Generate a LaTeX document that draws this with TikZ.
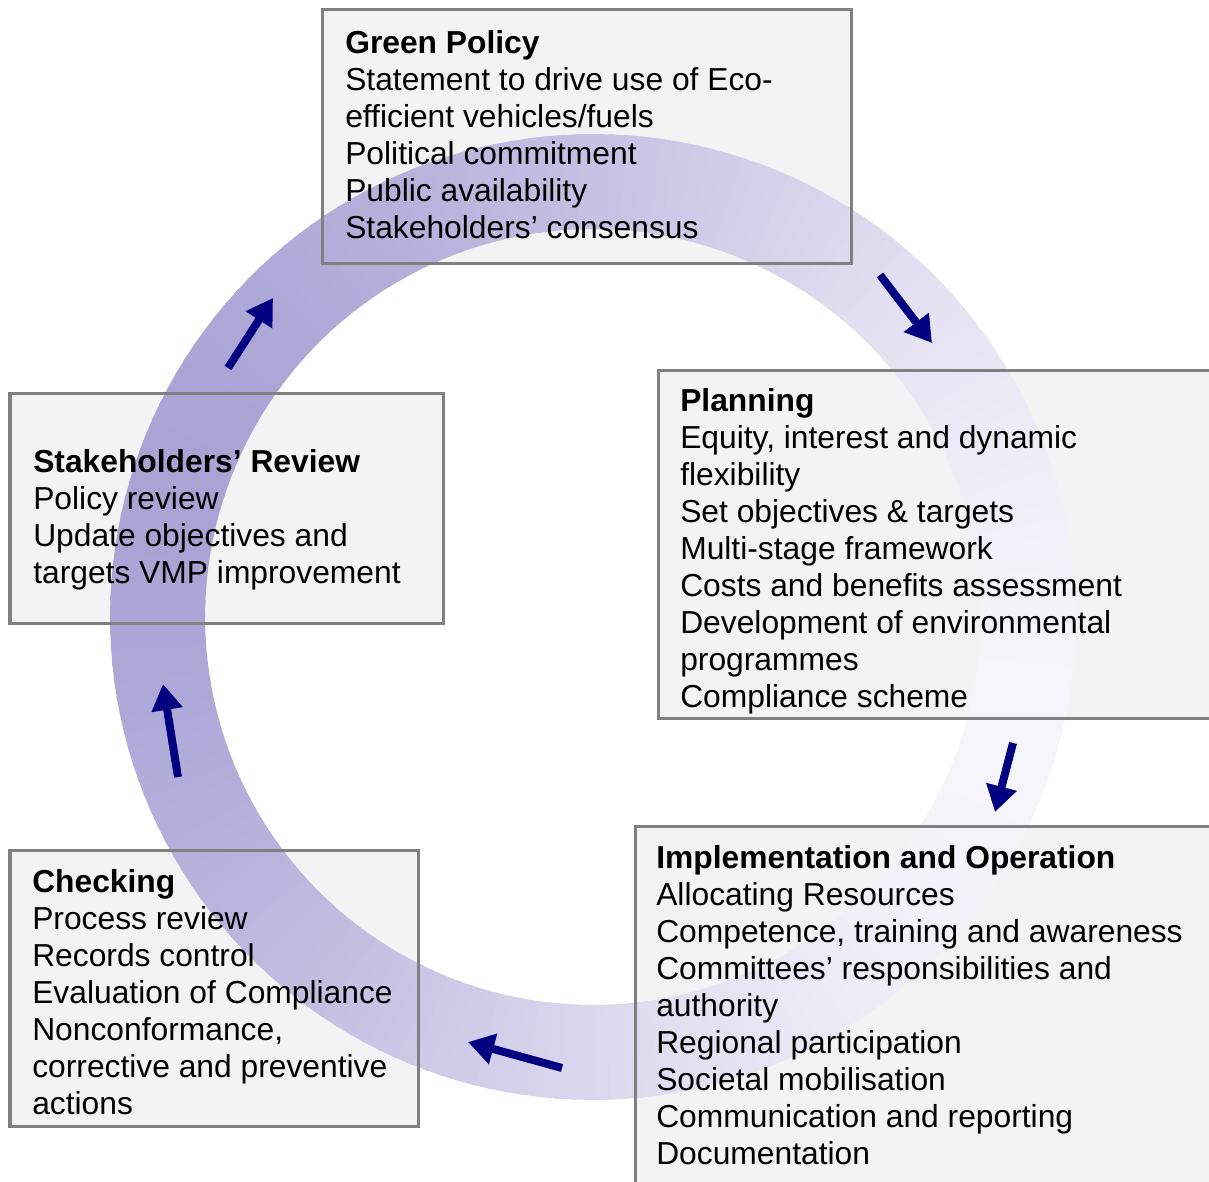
\documentclass[tikz,border=0pt]{standalone}
\usepackage{fontspec}
\setmainfont{Liberation Sans}
\usetikzlibrary{arrows.meta,positioning}
\definecolor{ringdark}{RGB}{170,164,213}
\definecolor{ringlight}{RGB}{246,245,251}
\definecolor{arrownavy}{RGB}{0,0,128}
\definecolor{boxrule}{RGB}{128,128,128}
\definecolor{boxfill}{RGB}{243,243,243}

\begin{document}
\begin{tikzpicture}[x=0.025cm,y=-0.025cm]
\tikzset{
  stagebox/.style={rectangle,fill=boxfill,anchor=north west,inner sep=0pt},
  stagerule/.style={draw=boxrule,line width=0.075cm},
  stagetext/.style={align=left,inner sep=0pt,anchor=north west,font=\fontsize{22.6}{26.3}\selectfont},
  cyclearrow/.style={draw=arrownavy,line width=0.2cm,-{Triangle[length=0.65cm,width=0.75cm]}}
}
\useasboundingbox (0,0) rectangle (1209,1182);
\clip (0,0) rectangle (1209,1182);
% box backgrounds
\node[stagebox,minimum width=13.225cm,minimum height=6.325cm] (n_policy) at (322,10) {};
\node[stagebox,minimum width=14.3cm,minimum height=8.7cm] (n_plan) at (658,370) {};
\node[stagebox,minimum width=15cm,minimum height=9.35cm] (n_impl) at (635,826) {};
\node[stagebox,minimum width=10.2cm,minimum height=6.9cm] (n_check) at (10,850) {};
\node[stagebox,minimum width=10.825cm,minimum height=5.75cm] (n_review) at (10,393) {};
% shaded ring
\coordinate (ring_c) at (593,617);
\begin{scope}[shift={(ring_c)}]
\foreach \a in {0,2,...,358}{
  \pgfmathsetmacro\t{50*(1-cos(\a-15))}
  \fill[ringdark!\t!ringlight] (\a:388) -- (\a:483) -- (\a+2.6:483) -- (\a+2.6:388) -- cycle;
}
\end{scope}
% box frames
\foreach \n in {n_policy,n_plan,n_impl,n_check,n_review}
  \draw[stagerule] (\n.north west) rectangle (\n.south east);
% texts
\node[stagetext,below right=0.5cm and 0.575cm of n_policy.north west] (t_policy)
  {\textbf{Green Policy}\\Statement to drive use of Eco-\\efficient vehicles/fuels\\Political commitment\\Public availability\\Stakeholders’ consensus};
\node[stagetext,below right=0.45cm and 0.55cm of n_plan.north west] (t_plan)
  {\textbf{Planning}\\Equity, interest and dynamic\\flexibility\\Set objectives \& targets\\Multi-stage framework\\Costs and benefits assessment\\Development of environmental\\programmes\\Compliance scheme};
\node[stagetext,below right=0.475cm and 0.525cm of n_impl.north west] (t_impl)
  {\textbf{Implementation and Operation}\\Allocating Resources\\Competence, training and awareness\\Committees’ responsibilities and\\authority\\Regional participation\\Societal mobilisation\\Communication and reporting\\Documentation};
\node[stagetext,below right=0.475cm and 0.55cm of n_check.north west] (t_check)
  {\textbf{Checking}\\Process review\\Records control\\Evaluation of Compliance\\Nonconformance,\\corrective and preventive\\actions};
\node[stagetext,below right=1.4cm and 0.575cm of n_review.north west] (t_review)
  {\textbf{Stakeholders’ Review}\\Policy review\\Update objectives and\\targets VMP improvement};
% arrows
\coordinate (a_pol_s) at (880,275);
\coordinate (a_pol_e) at (932,343);
\coordinate (a_plan_s) at (1013,743);
\coordinate (a_plan_e) at (995,812);
\coordinate (a_impl_s) at (562,1068);
\coordinate (a_impl_e) at (468,1042);
\coordinate (a_chk_s) at (178,777);
\coordinate (a_chk_e) at (163,684);
\coordinate (a_rev_s) at (228,368);
\coordinate (a_rev_e) at (273,298);
\draw[cyclearrow] (a_pol_s) -- (a_pol_e);
\draw[cyclearrow] (a_plan_s) -- (a_plan_e);
\draw[cyclearrow] (a_impl_s) -- (a_impl_e);
\draw[cyclearrow] (a_chk_s) -- (a_chk_e);
\draw[cyclearrow] (a_rev_s) -- (a_rev_e);
\end{tikzpicture}
\end{document}
